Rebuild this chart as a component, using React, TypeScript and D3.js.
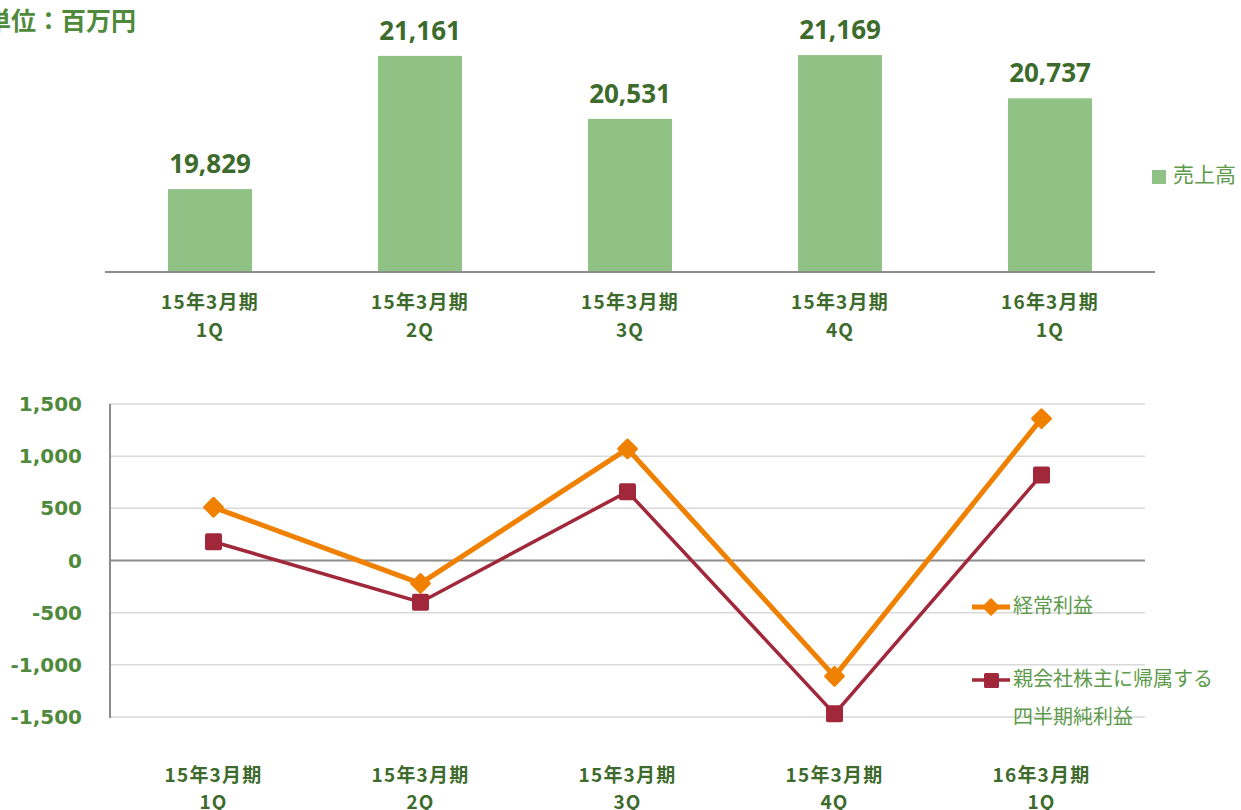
import React from "react";
import * as d3 from "d3";

const categories = ["15年3月期|1Q", "15年3月期|2Q", "15年3月期|3Q", "15年3月期|4Q", "16年3月期|1Q"];
const sales = [19829, 21161, 20531, 21169, 20737];
const ordinaryProfit = [510, -220, 1070, -1110, 1360];
const netProfit = [180, -400, 660, -1470, 820];
const profitTicks = [1500, 1000, 500, 0, -500, -1000, -1500];

const W = 1241;
const H = 810;
const FONT = "'Noto Sans CJK JP', 'Noto Sans', sans-serif";
const NUMFONT = "'Open Sans', 'Noto Sans', sans-serif";
const TICKFONT = "'DejaVu Sans', 'Noto Sans', sans-serif";
const DARK = "#3d6b2c";
const MID = "#4f8a3c";
const LIGHT = "#5e9a4c";
const ORANGE = "#f08000";
const RED = "#a0283a";

export default function App() {
  // Top bar chart
  const xTop = d3.scaleBand().domain(categories).range([105, 1155]).paddingInner(0.6).paddingOuter(0.3);
  const yTop = d3.scaleLinear().domain([19000, 21500]).range([272, 22]);

  // Bottom line chart
  const xBot = d3.scalePoint().domain(categories).range([110, 1145]).padding(0.5);
  const yBot = d3.scaleLinear().domain([-1500, 1500]).range([717, 404]);

  const lineGen = d3
    .line<number>()
    .x((_, i) => xBot(categories[i]) as number)
    .y((d) => yBot(d));

  const diamond = d3.symbol().type(d3.symbolDiamond2).size(200)();
  const diamondSmall = d3.symbol().type(d3.symbolDiamond2).size(150)();

  const catLabel = (c: string, cx: number, y1: number, y2: number, key: string) => {
    const [a, b] = c.split("|");
    return (
      <g key={key}>
        <text x={cx} y={y1} textAnchor="middle" fontSize={19} fontWeight={700} letterSpacing={1.2} fill={DARK}>{a}</text>
        <text x={cx} y={y2} textAnchor="middle" fontSize={19} fontWeight={700} letterSpacing={1.2} fill={DARK}>{b}</text>
      </g>
    );
  };

  return (
    <svg width={W} height={H} style={{ position: "absolute", left: 0, top: 0, background: "#fff" }} fontFamily={FONT}>
      {/* unit label */}
      <text x={-14} y={30} fontSize={25} fontWeight={700} fill={MID}>単位：百万円</text>

      {/* bars */}
      {sales.map((v, i) => {
        const c = categories[i];
        const x = xTop(c) as number;
        const bw = xTop.bandwidth();
        return (
          <g key={c}>
            <rect x={x} y={yTop(v)} width={bw} height={272 - yTop(v)} fill="#8fc284" />
            <text x={x + bw / 2} y={yTop(v) - 16} textAnchor="middle" fontSize={26} fontWeight={700} fontFamily={NUMFONT} fill={DARK}>
              {d3.format(",")(v)}
            </text>
          </g>
        );
      })}
      <line x1={105} x2={1155} y1={272} y2={272} stroke="#8c8c8c" strokeWidth={2} />
      {categories.map((c) => catLabel(c, (xTop(c) as number) + xTop.bandwidth() / 2, 309, 337, "tl" + c))}

      {/* top legend */}
      <rect x={1152} y={170} width={14} height={14} fill="#8fc284" />
      <text x={1173} y={182} fontSize={21} fill={LIGHT}>売上高</text>

      {/* bottom chart grid */}
      {profitTicks.map((t) => (
        <g key={"g" + t}>
          <line
            x1={110}
            x2={1145}
            y1={yBot(t)}
            y2={yBot(t)}
            stroke={t === 0 ? "#8c8c8c" : "#d9d9d9"}
            strokeWidth={t === 0 ? 2 : 1.5}
          />
          <text x={82} y={yBot(t) + 7} textAnchor="end" fontSize={20} fontWeight={700} fontFamily={TICKFONT} fill={MID}>
            {d3.format(",")(t).replace("−", "-")}
          </text>
        </g>
      ))}
      <line x1={110} x2={110} y1={404} y2={718} stroke="#8c8c8c" strokeWidth={2} />

      {/* lines */}
      <path d={lineGen(netProfit) || ""} fill="none" stroke={RED} strokeWidth={3.5} />
      <path d={lineGen(ordinaryProfit) || ""} fill="none" stroke={ORANGE} strokeWidth={5} />
      {netProfit.map((v, i) => (
        <rect
          key={"n" + i}
          x={(xBot(categories[i]) as number) - 8.5}
          y={yBot(v) - 8.5}
          width={17}
          height={17}
          rx={2}
          fill={RED}
        />
      ))}
      {ordinaryProfit.map((v, i) => (
        <path
          key={"o" + i}
          d={diamond || ""}
          transform={`translate(${xBot(categories[i])},${yBot(v)})`}
          fill={ORANGE}
          stroke={ORANGE}
          strokeWidth={3}
          strokeLinejoin="round"
        />
      ))}

      {categories.map((c) => catLabel(c, xBot(c) as number, 782, 809, "bl" + c))}

      {/* bottom legend */}
      <line x1={972} x2={1010} y1={607} y2={607} stroke={ORANGE} strokeWidth={5} />
      <path d={diamondSmall || ""} transform="translate(991,607)" fill={ORANGE} stroke={ORANGE} strokeWidth={2} strokeLinejoin="round" />
      <text x={1013} y={613} fontSize={20} fill={LIGHT}>経常利益</text>
      <line x1={972} x2={1010} y1={680} y2={680} stroke={RED} strokeWidth={3.5} />
      <rect x={984} y={673} width={15} height={15} rx={1.5} fill={RED} />
      <text x={1013} y={686} fontSize={20} fill={LIGHT}>親会社株主に帰属する</text>
      <text x={1013} y={724} fontSize={20} fill={LIGHT}>四半期純利益</text>
    </svg>
  );
}
